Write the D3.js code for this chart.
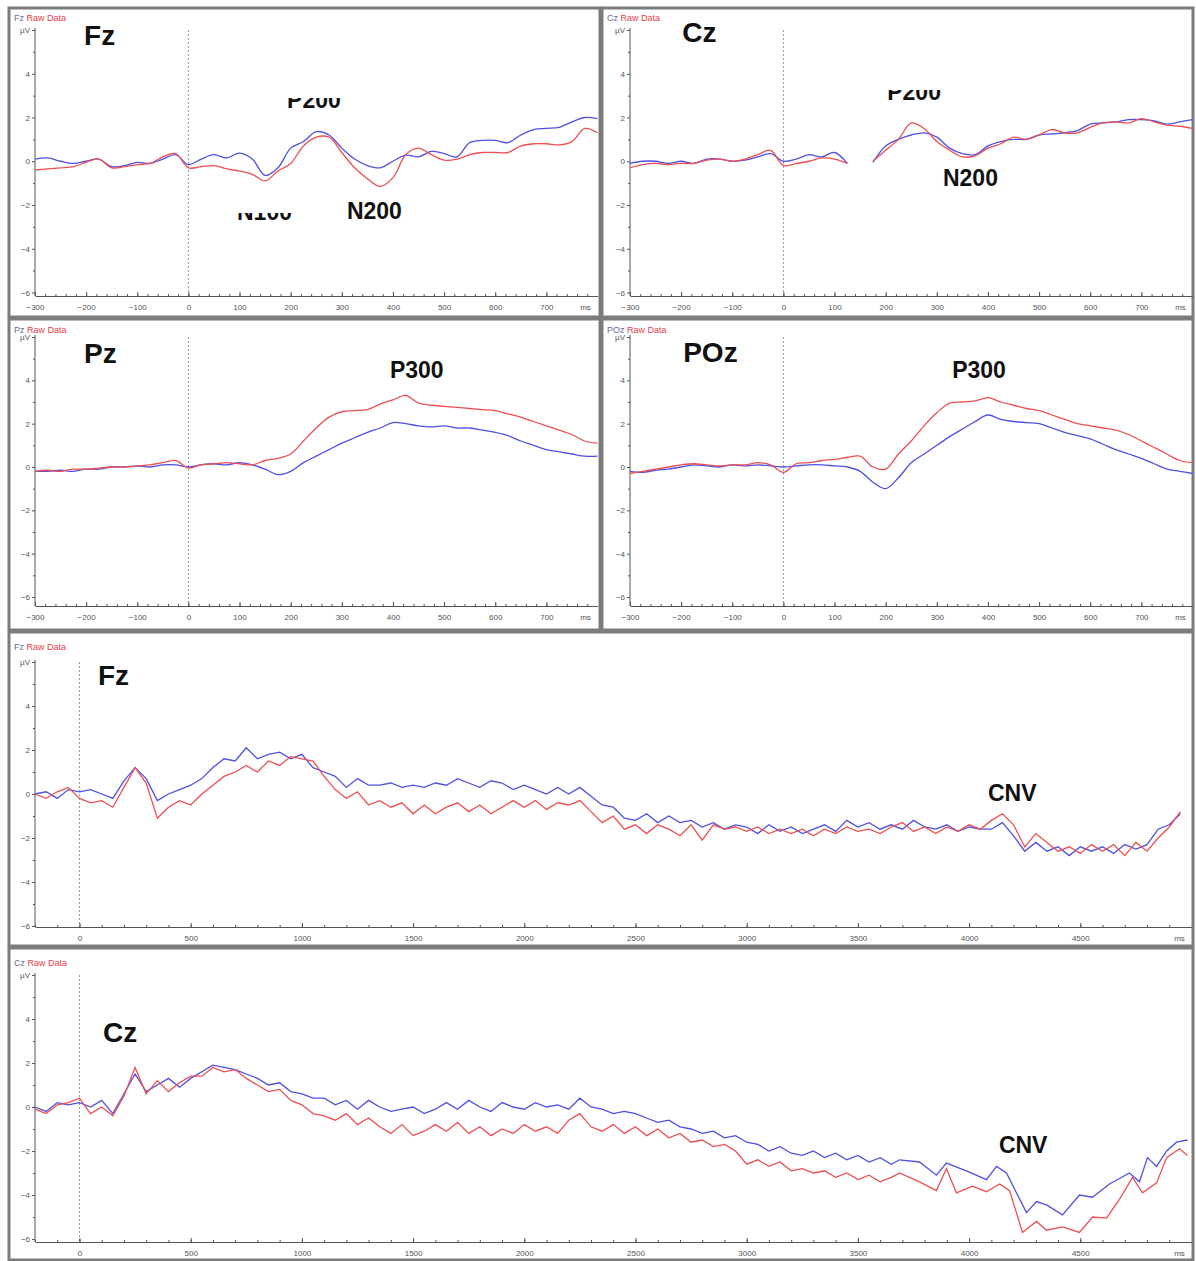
<!DOCTYPE html>
<html><head><meta charset="utf-8">
<script src="https://cdn.jsdelivr.net/npm/d3@7"></script>
<style>body{margin:0;background:#fff;} svg{display:block;font-family:"Liberation Sans",Arial,sans-serif;}</style>
</head><body><svg id="c" width="1196" height="1261"></svg>
<script>
// ---------- DATA ----------
const shortTimes = [-300,-275,-250,-225,-200,-175,-150,-125,-100,-75,-50,-25,0,25,50,75,100,125,150,175,200,225,250,275,300,325,350,375,400,425,450,475,500,525,550,575,600,625,650,675,700,725,750,775,800];
const fzShortBlue = [0.1,0.15,0.0,-0.1,0.0,0.1,-0.25,-0.2,-0.05,-0.1,0.1,0.3,-0.15,0.1,0.3,0.15,0.37,0.1,-0.65,-0.3,0.6,0.9,1.35,1.2,0.6,0.1,-0.2,-0.3,0.0,0.28,0.2,0.45,0.35,0.2,0.85,0.95,0.95,0.85,1.2,1.45,1.5,1.55,1.8,2.0,1.95];
const fzShortRed  = [-0.4,-0.35,-0.3,-0.25,-0.05,0.1,-0.3,-0.25,-0.15,-0.1,0.2,0.35,-0.3,-0.25,-0.2,-0.35,-0.45,-0.6,-0.9,-0.45,-0.1,0.7,1.1,1.1,0.4,-0.3,-0.8,-1.15,-0.75,0.3,0.6,0.3,0.05,0.1,0.3,0.4,0.4,0.4,0.7,0.8,0.8,0.75,0.9,1.5,1.3];
const czShortBlue = [-0.1,0.0,0.0,-0.1,0.0,-0.1,0.1,0.1,0.0,0.05,0.2,0.35,0.0,0.1,0.3,0.2,0.4,-0.1,null,-0.05,0.7,1.0,1.2,1.3,1.1,0.6,0.35,0.3,0.7,0.9,1.0,1.0,1.2,1.25,1.3,1.4,1.7,1.75,1.8,1.9,1.9,1.85,1.7,1.8,1.9];
const czShortRed  = [-0.3,-0.15,-0.1,-0.15,-0.1,-0.1,0.05,0.1,0.0,0.1,0.3,0.5,-0.2,-0.1,0.0,0.15,0.1,-0.1,null,0.0,0.5,1.0,1.75,1.5,0.9,0.5,0.2,0.25,0.6,0.8,1.1,1.0,1.2,1.45,1.3,1.3,1.55,1.75,1.8,1.75,1.95,1.8,1.65,1.6,1.5];
const pzShortBlue = [-0.2,-0.2,-0.15,-0.2,-0.1,-0.1,0.0,0.0,0.05,0.0,0.1,0.1,0.0,0.1,0.15,0.1,0.2,0.1,-0.1,-0.35,-0.2,0.2,0.5,0.8,1.1,1.35,1.6,1.8,2.05,2.0,1.9,1.85,1.9,1.8,1.8,1.7,1.6,1.45,1.2,1.0,0.8,0.7,0.6,0.5,0.5];
const pzShortRed  = [-0.2,-0.15,-0.2,-0.1,-0.1,-0.05,0.0,0.0,0.05,0.1,0.2,0.3,-0.05,0.1,0.15,0.2,0.15,0.1,0.3,0.4,0.6,1.2,1.8,2.3,2.55,2.6,2.65,2.9,3.1,3.3,2.95,2.85,2.8,2.75,2.7,2.65,2.6,2.45,2.3,2.1,1.9,1.7,1.5,1.2,1.1];
const pozShortBlue = [-0.2,-0.25,-0.15,-0.1,0.0,0.1,0.05,0.0,0.1,0.05,0.1,0.05,0.0,0.05,0.1,0.1,0.05,0.0,-0.2,-0.7,-1.0,-0.5,0.2,0.6,1.0,1.4,1.75,2.1,2.4,2.2,2.1,2.05,2.0,1.8,1.6,1.45,1.3,1.05,0.8,0.6,0.4,0.15,-0.1,-0.2,-0.3];
const pozShortRed  = [-0.3,-0.2,-0.1,0.0,0.1,0.15,0.1,0.05,0.1,0.1,0.2,0.1,-0.25,0.15,0.2,0.3,0.35,0.45,0.5,0.0,-0.1,0.6,1.2,1.9,2.5,2.95,3.0,3.05,3.2,3.0,2.85,2.7,2.6,2.4,2.2,2.0,1.9,1.8,1.7,1.5,1.2,0.9,0.6,0.3,0.2];

const fzLongTimes = [-200,-150,-100,-50,0,50,100,150,200,250,300,350,400,450,500,550,600,650,700,750,800,850,900,950,1000,1050,1100,1150,1200,1250,1300,1350,1400,1450,1500,1550,1600,1650,1700,1750,1800,1850,1900,1950,2000,2050,2100,2150,2200,2250,2300,2350,2400,2450,2500,2550,2600,2650,2700,2750,2800,2850,2900,2950,3000,3050,3100,3150,3200,3250,3300,3350,3400,3450,3500,3550,3600,3650,3700,3750,3800,3850,3900,3950,4000,4050,4100,4150,4200,4250,4300,4350,4400,4450,4500,4550,4600,4650,4700,4750,4800,4850,4900,4950];
const fzLongBlue = [0.0,0.1,-0.2,0.2,0.1,0.2,0.0,-0.2,0.6,1.2,0.7,-0.3,0.0,0.2,0.4,0.7,1.2,1.6,1.5,2.1,1.6,1.8,1.9,1.6,1.8,1.2,1.0,0.8,0.3,0.7,0.4,0.4,0.5,0.3,0.4,0.3,0.5,0.4,0.7,0.5,0.3,0.6,0.5,0.2,0.4,0.2,0.0,0.3,0.0,0.3,-0.1,-0.5,-0.6,-1.1,-1.2,-0.9,-1.3,-1.0,-1.3,-1.2,-1.5,-1.3,-1.6,-1.4,-1.5,-1.8,-1.4,-1.7,-1.5,-1.8,-1.6,-1.4,-1.7,-1.2,-1.5,-1.3,-1.6,-1.4,-1.6,-1.2,-1.5,-1.6,-1.4,-1.7,-1.5,-1.6,-1.6,-1.3,-1.9,-2.6,-2.2,-2.6,-2.4,-2.8,-2.4,-2.6,-2.4,-2.7,-2.3,-2.5,-2.3,-1.6,-1.4,-0.9];
const fzLongRed  = [0.0,-0.2,0.1,0.3,-0.2,-0.4,-0.3,-0.6,0.3,1.2,0.5,-1.1,-0.6,-0.3,-0.5,0.0,0.4,0.8,1.0,1.3,1.0,1.5,1.3,1.7,1.6,1.5,0.8,0.2,-0.2,0.1,-0.5,-0.3,-0.6,-0.4,-0.9,-0.5,-0.9,-0.6,-0.4,-0.8,-0.5,-0.9,-0.6,-0.3,-0.6,-0.3,-0.7,-0.4,-0.5,-0.3,-0.8,-1.3,-1.0,-1.6,-1.4,-1.8,-1.4,-1.6,-1.9,-1.4,-2.1,-1.4,-1.6,-1.5,-1.7,-1.5,-1.8,-1.6,-1.8,-1.6,-1.9,-1.6,-1.8,-1.5,-1.7,-1.6,-1.8,-1.5,-1.3,-1.7,-1.5,-1.8,-1.5,-1.7,-1.4,-1.6,-1.2,-0.9,-1.4,-2.4,-1.8,-2.2,-2.6,-2.4,-2.7,-2.3,-2.6,-2.3,-2.8,-2.2,-2.6,-2.0,-1.5,-0.8];

const czLongBlueTimes = [-200,-150,-100,-50,0,50,100,150,200,250,300,350,400,450,500,550,600,650,700,750,800,850,900,950,1000,1050,1100,1150,1200,1250,1300,1350,1400,1450,1500,1550,1600,1650,1700,1750,1800,1850,1900,1950,2000,2050,2100,2150,2200,2250,2300,2350,2400,2450,2500,2550,2600,2650,2700,2750,2800,2850,2900,2950,3000,3050,3100,3150,3200,3250,3300,3350,3400,3450,3500,3550,3600,3650,3687,3777,3853,3898,3988,4078,4123,4168,4258,4303,4348,4420,4496,4555,4631,4721,4766,4802,4843,4888,4933,4982];
const czLongBlue = [0.0,-0.2,0.2,0.1,0.2,0.0,0.3,-0.3,0.6,1.5,0.7,1.0,1.3,0.9,1.3,1.6,1.9,1.8,1.7,1.5,1.3,1.0,1.1,0.7,0.6,0.4,0.4,0.1,0.3,-0.1,0.3,0.0,-0.2,-0.1,0.0,-0.3,-0.1,0.2,-0.1,0.3,0.0,-0.2,0.2,0.0,-0.1,0.2,0.0,0.1,-0.1,0.4,0.0,-0.1,-0.3,-0.2,-0.3,-0.5,-0.7,-0.6,-0.9,-1.0,-1.2,-1.1,-1.4,-1.3,-1.6,-1.7,-2.0,-1.8,-2.1,-2.2,-2.0,-2.3,-2.1,-2.4,-2.2,-2.5,-2.3,-2.6,-2.4,-2.5,-3.1,-2.55,-2.9,-3.3,-2.7,-3.0,-4.8,-4.3,-4.45,-4.9,-4.0,-4.1,-3.5,-3.0,-3.4,-2.3,-2.7,-2.0,-1.6,-1.5];
const czLongRedTimes = [-200,-150,-100,-50,0,50,100,150,200,250,300,350,400,450,500,550,600,650,700,750,800,850,900,950,1000,1050,1100,1150,1200,1250,1300,1350,1400,1450,1500,1550,1600,1650,1700,1750,1800,1850,1900,1950,2000,2050,2100,2150,2200,2250,2300,2350,2400,2450,2500,2550,2600,2650,2700,2750,2800,2850,2900,2950,3000,3050,3100,3150,3200,3250,3300,3350,3400,3450,3500,3550,3600,3650,3687,3777,3853,3898,3943,4015,4078,4137,4182,4240,4303,4348,4420,4496,4555,4618,4676,4735,4780,4843,4888,4946,4982];
const czLongRed  = [-0.1,-0.3,0.1,0.2,0.4,-0.3,0.0,-0.4,0.5,1.8,0.6,1.2,0.7,1.1,1.4,1.4,1.8,1.6,1.7,1.3,1.0,0.7,0.8,0.3,0.1,-0.3,-0.4,-0.6,-0.3,-0.8,-0.5,-0.9,-1.2,-0.8,-1.3,-1.1,-0.8,-1.1,-0.7,-1.2,-0.9,-1.3,-1.0,-1.2,-0.8,-1.1,-0.9,-1.2,-0.6,-0.3,-0.9,-1.1,-0.8,-1.2,-0.9,-1.3,-1.0,-1.4,-1.2,-1.6,-1.5,-1.8,-1.7,-2.0,-2.6,-2.4,-2.7,-2.5,-2.9,-2.8,-3.0,-2.9,-3.2,-3.0,-3.3,-3.1,-3.4,-3.2,-3.0,-3.4,-3.8,-2.8,-3.9,-3.6,-3.85,-3.5,-3.8,-5.7,-5.2,-5.6,-5.45,-5.7,-5.0,-5.05,-4.2,-3.2,-3.9,-3.45,-2.3,-1.9,-2.2];

const shortTickLabels = [-300,-200,-100,0,100,200,300,400,500,600,700];
const longTickLabels = [0,500,1000,1500,2000,2500,3000,3500,4000,4500];
const yTickLabels = [-6,-4,-2,0,2,4,6];

// ---------- LAYOUT ----------
const BLUE = "#4f50e4", RED = "#ee4f52";
const panels = [
  {ch:"Fz", frame:[9,8,591,309], x:[35,597.5], dom:[-300,800], y:[292.5,30], axisY:296, hdr:21,
   t:shortTimes, tb:shortTimes, blue:fzShortBlue, red:fzShortRed, kind:"short",
   labels:[{s:"Fz",t:-204,v:5.32,size:28},{s:"P200",t:193,v:2.43,size:23,clip:10},{s:"N100",t:95,v:-2.69,size:23,clip:7},{s:"N200",t:310,v:-2.64,size:23}]},
  {ch:"Cz", frame:[602,8,591,309], x:[630,1192.5], dom:[-300,800], y:[292.5,30], axisY:296, hdr:21,
   t:shortTimes, tb:shortTimes, blue:czShortBlue, red:czShortRed, kind:"short",
   labels:[{s:"Cz",t:-198,v:5.45,size:28},{s:"P200",t:203,v:2.8,size:23,clip:10},{s:"N200",t:312,v:-1.13,size:23}]},
  {ch:"Pz", frame:[9,319,591,311], x:[35,597.5], dom:[-300,800], y:[597,337], axisY:606, hdr:333,
   t:shortTimes, tb:shortTimes, blue:pzShortBlue, red:pzShortRed, kind:"short",
   labels:[{s:"Pz",t:-204,v:4.8,size:28},{s:"P300",t:394,v:4.1,size:23}]},
  {ch:"POz", frame:[602,319,591,311], x:[630,1192.5], dom:[-300,800], y:[597,337], axisY:606, hdr:333,
   t:shortTimes, tb:shortTimes, blue:pozShortBlue, red:pozShortRed, kind:"short",
   labels:[{s:"POz",t:-196,v:4.85,size:28},{s:"P300",t:330,v:4.1,size:23}]},
  {ch:"Fz", frame:[9,632,1184,314], x:[35,1191.5], dom:[-200,5000], y:[926,662], axisY:927, hdr:650,
   t:fzLongTimes, tb:fzLongTimes, blue:fzLongBlue, red:fzLongRed, kind:"long",
   labels:[{s:"Fz",t:83,v:4.95,size:28},{s:"CNV",t:4085,v:-0.32,size:23}]},
  {ch:"Cz", frame:[9,948,1184,312], x:[35,1191.5], dom:[-200,5000], y:[1239,975], axisY:1242, hdr:966,
   t:czLongRedTimes, tb:czLongBlueTimes, blue:czLongBlue, red:czLongRed, kind:"long",
   labels:[{s:"Cz",t:106,v:2.95,size:28},{s:"CNV",t:4134,v:-2.09,size:23}]}
];

const svg = d3.select("#c");
svg.append("rect").attr("width",1196).attr("height",1261).attr("fill","#fff");
const defs = svg.append("defs");

panels.forEach((p,i) => {
  const g = svg.append("g");
  const x = d3.scaleLinear().domain(p.dom).range(p.x);
  const y = d3.scaleLinear().domain([-6,6]).range(p.y);
  const x0 = p.x[0];

  // frame
  g.append("rect").attr("x",p.frame[0]).attr("y",p.frame[1]).attr("width",p.frame[2]).attr("height",p.frame[3])
    .attr("fill","#fff").attr("stroke","#7c7c7c").attr("stroke-width",3);

  // header
  const h = g.append("text").attr("x",p.frame[0]+5).attr("y",p.hdr).attr("font-size",9);
  h.append("tspan").attr("fill","#6a6a9c").text(p.ch+" ");
  h.append("tspan").attr("fill","#e8404a").text("Raw Data");

  // zero line
  g.append("line").attr("x1",x(0)).attr("x2",x(0)).attr("y1",y(6)).attr("y2",p.axisY)
    .attr("stroke","#9a9a9a").attr("stroke-dasharray","2,2").attr("stroke-width",1);

  // y axis
  g.append("line").attr("x1",x0).attr("x2",x0).attr("y1",y(6)-2).attr("y2",p.axisY).attr("stroke","#555");
  const ya = d3.axisLeft(y).tickValues(yTickLabels).tickSize(3).tickSizeOuter(0).tickPadding(2)
    .tickFormat(d => d===6 ? "µV" : d3.format("d")(d));
  const yg = g.append("g").attr("transform",`translate(${x0},0)`).call(ya);
  const ym = d3.axisLeft(y).tickValues([-5,-3,-1,1,3,5]).tickSize(2).tickFormat("");
  const ymg = g.append("g").attr("transform",`translate(${x0},0)`).call(ym);
  [yg,ymg].forEach(a => { a.select(".domain").remove(); a.selectAll("line").attr("stroke","#555"); });
  yg.selectAll("text").attr("font-size",8).attr("fill","#555").attr("font-family","Liberation Sans, Arial, sans-serif");

  // x axis
  const majors = p.kind==="short" ? shortTickLabels : longTickLabels;
  const minorVals = p.kind==="short" ? d3.range(-300,800,20) : d3.range(-200,5000,100);
  const xa = d3.axisBottom(x).tickValues(majors).tickSize(-4).tickSizeOuter(0).tickPadding(8).tickFormat(d3.format("d"));
  const xg = g.append("g").attr("transform",`translate(0,${p.axisY})`).call(xa);
  xg.select(".domain").attr("stroke","#555");
  xg.selectAll("line").attr("stroke","#555");
  xg.selectAll("text").attr("font-size",8).attr("fill","#555").attr("font-family","Liberation Sans, Arial, sans-serif");
  const xm = d3.axisBottom(x).tickValues(minorVals).tickSize(-2).tickSizeOuter(0).tickFormat("");
  const xmg = g.append("g").attr("transform",`translate(0,${p.axisY})`).call(xm);
  xmg.select(".domain").remove(); xmg.selectAll("line").attr("stroke","#555");
  g.append("text").attr("x",p.x[1]-12).attr("y",p.axisY+14).attr("text-anchor","middle")
    .attr("font-size",8).attr("fill","#555").text("ms");

  // lines
  const curve = p.kind==="short" ? d3.curveCatmullRom : d3.curveLinear;
  const line = d3.line().defined(d => d[1]!==null).x(d => x(d[0])).y(d => y(d[1])).curve(curve);
  g.append("path").datum(p.tb.map((t,k)=>[t,p.blue[k]])).attr("d",line)
    .attr("fill","none").attr("stroke",BLUE).attr("stroke-width",1.3);
  g.append("path").datum(p.t.map((t,k)=>[t,p.red[k]])).attr("d",line)
    .attr("fill","none").attr("stroke",RED).attr("stroke-width",1.3);

  // labels
  p.labels.forEach((l,j) => {
    const tx = g.append("text").attr("x",x(l.t)).attr("y",y(l.v)).attr("font-size",l.size)
      .attr("font-weight","bold").attr("fill","#111").text(l.s);
    if (l.clip) {
      const id = `clip${i}_${j}`;
      defs.append("clipPath").attr("id",id).append("rect")
        .attr("x",x(l.t)-5).attr("y",y(l.v)-l.clip).attr("width",80).attr("height",l.clip+6);
      tx.attr("clip-path",`url(#${id})`);
    }
  });
});
</script></body></html>
